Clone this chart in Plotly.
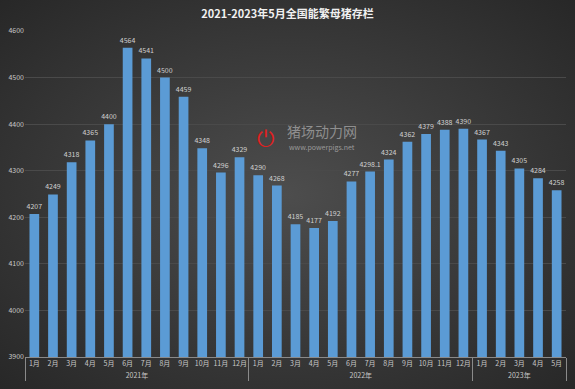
import base64
import plotly.graph_objects as go

years = ["2021年"] * 12 + ["2022年"] * 12 + ["2023年"] * 5
months = [f"{m}月" for m in range(1, 13)] + [f"{m}月" for m in range(1, 13)] + [f"{m}月" for m in range(1, 6)]
values = [4207, 4249, 4318, 4365, 4400, 4564, 4541, 4500, 4459, 4348, 4296, 4329,
          4290, 4268, 4185, 4177, 4192, 4277, 4298.1, 4324, 4362, 4379, 4388, 4390,
          4367, 4343, 4305, 4284, 4258]
labels = [f"{v:g}" for v in values]
title = "2021-2023年5月全国能繁母猪存栏"

W, H = 575, 389
ml, mr, mt, mb = 25, 9, 31, 32
pw, ph = W - ml - mr, H - mt - mb

svg = f'''<svg xmlns="http://www.w3.org/2000/svg" width="{W}" height="{H}">
<defs><radialGradient id="g" cx="50%" cy="50%" r="75%">
<stop offset="0%" stop-color="#4d4d4d"/><stop offset="100%" stop-color="#252525"/>
</radialGradient></defs>
<rect width="{W}" height="{H}" fill="url(#g)"/></svg>'''
bg = "data:image/svg+xml;base64," + base64.b64encode(svg.encode()).decode()

font = "Noto Sans CJK SC, DejaVu Sans, sans-serif"

fig = go.Figure(go.Bar(
    x=[years, months], y=values,
    text=labels, textposition="outside", constraintext="none",
    textfont=dict(size=7, color="#d0d0d0", family=font),
    marker=dict(color="#5b9bd5", line=dict(width=0)),
    cliponaxis=False,
))

fig.update_layout(
    width=W, height=H,
    margin=dict(l=ml, r=mr, t=mt, b=mb, autoexpand=False),
    paper_bgcolor="#333333",
    plot_bgcolor="rgba(0,0,0,0)",
    bargap=0.48,
    showlegend=False,
    title=dict(text=f"<b>{title}</b>", x=0.5, xanchor="center", y=1 - 14 / H, yanchor="middle",
               font=dict(size=11, color="#f0f0f0", family=font)),
    font=dict(family=font, color="#c8c8c8", size=7),
    images=[dict(source=bg, xref="paper", yref="paper",
                 x=-ml / pw, y=1 + mt / ph, sizex=W / pw, sizey=H / ph,
                 sizing="stretch", layer="below", xanchor="left", yanchor="top")],
    xaxis=dict(type="multicategory", showgrid=False, showline=True, linecolor="#8a8a8a",
               linewidth=1, ticks="", tickangle=0, automargin=False,
               tickfont=dict(size=7, color="#c8c8c8"),
               showdividers=True, dividercolor="#8a8a8a", dividerwidth=1),
    yaxis=dict(range=[3900, 4600], dtick=100, showgrid=True, gridcolor="#4a4a4a", gridwidth=1,
               zeroline=False, showline=False, ticks="", automargin=False,
               tickfont=dict(size=7, color="#c8c8c8")),
    annotations=[
        dict(text="⏻", xref="paper", yref="paper", x=(265 - ml) / pw, y=1 - (136 - mt) / ph,
             showarrow=False, font=dict(size=22, color="#e02020"), xanchor="center", yanchor="middle"),
        dict(text="猪场动力网", xref="paper", yref="paper", x=(285 - ml) / pw, y=1 - (131 - mt) / ph,
             showarrow=False, font=dict(size=14, color="#8f8f8f", family=font), xanchor="left", yanchor="middle"),
        dict(text="www.powerpigs.net", xref="paper", yref="paper", x=(287 - ml) / pw, y=1 - (147 - mt) / ph,
             showarrow=False, font=dict(size=7, color="#9a9a9a", family=font), xanchor="left", yanchor="middle"),
    ],
)

fig.write_html("out.html", config={"displayModeBar": False},
               post_script="document.body.style.margin='0';document.body.style.overflow='hidden';")
